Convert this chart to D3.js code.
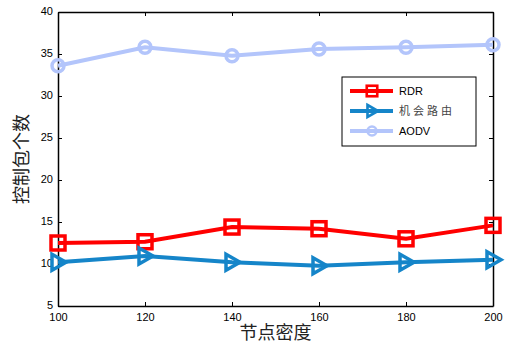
<!DOCTYPE html>
<html>
<head>
<meta charset="utf-8">
<script src="https://cdn.jsdelivr.net/npm/d3@7"></script>
<style>
  body { margin: 0; background: #fff; }
  svg text { font-family: "Liberation Sans", Arial, sans-serif; }
</style>
</head>
<body>
<div id="chart"></div>
<script>
const density = [100, 120, 140, 160, 180, 200];
const rdr = [12.5, 12.65, 14.4, 14.2, 13.0, 14.6];
const opportunistic = [10.2, 10.95, 10.2, 9.8, 10.2, 10.5];
const aodv = [33.6, 35.8, 34.8, 35.6, 35.8, 36.1];
const yTicks = [5, 10, 15, 20, 25, 30, 35, 40];
const xTicks = [100, 120, 140, 160, 180, 200];

const width = 510, height = 347;
const margin = {left: 58, right: 17, top: 12, bottom: 41};

const svg = d3.select("#chart").append("svg")
    .attr("width", width)
    .attr("height", height);

const x = d3.scaleLinear().domain([100, 200]).range([margin.left, width - margin.right]);
const y = d3.scaleLinear().domain([5, 40]).range([height - margin.bottom, margin.top]);

// axes, ticks pointing inward
const tickLen = 4;
const axisB = svg.append("g")
    .attr("transform", `translate(0,${y(5)})`)
    .call(d3.axisBottom(x).tickValues(xTicks).tickSizeInner(-tickLen).tickSizeOuter(0).tickPadding(8));
const axisT = svg.append("g")
    .attr("transform", `translate(0,${y(40)})`)
    .call(d3.axisTop(x).tickValues(xTicks).tickSizeInner(-tickLen).tickSizeOuter(0).tickFormat(""));
const axisL = svg.append("g")
    .attr("transform", `translate(${x(100)},0)`)
    .call(d3.axisLeft(y).tickValues(yTicks).tickSizeInner(-tickLen).tickSizeOuter(0).tickPadding(5));
const axisR = svg.append("g")
    .attr("transform", `translate(${x(200)},0)`)
    .call(d3.axisRight(y).tickValues(yTicks).tickSizeInner(-tickLen).tickSizeOuter(0).tickFormat(""));

[axisB, axisT, axisL, axisR].forEach(a => {
    a.select(".domain").attr("stroke", "#000").attr("stroke-width", 1.5);
    a.selectAll(".tick line").attr("stroke", "#000");
    a.selectAll("text").attr("font-size", 11).attr("fill", "#000")
      .style("font-family", "'Liberation Sans', Arial, sans-serif");
});
axisB.selectAll("text").attr("dy", "0.6em");
axisL.selectAll("text").attr("dy", "0.2em");

// labels
svg.append("text")
    .attr("x", (x(100) + x(200)) / 2)
    .attr("y", 339)
    .attr("text-anchor", "middle")
    .attr("font-size", 18)
    .attr("fill", "#222")
    .style("font-family", "'Noto Sans CJK SC', sans-serif")
    .text("节点密度");

svg.append("text")
    .attr("transform", `translate(28,${(y(5) + y(40)) / 2}) rotate(-90)`)
    .attr("text-anchor", "middle")
    .attr("font-size", 18)
    .attr("fill", "#222")
    .style("font-family", "'Noto Sans CJK SC', sans-serif")
    .text("控制包个数");

const series = [
    {name: "RDR", values: rdr, color: "#ff0000", marker: "square"},
    {name: "机会路由", values: opportunistic, color: "#1585c9", marker: "triangle"},
    {name: "AODV", values: aodv, color: "#b3c5fb", marker: "circle"}
];

const line = d3.line().x((d, i) => x(density[i])).y(d => y(d));

function drawMarker(g, type, cx, cy, color) {
    if (type === "square") {
        g.append("rect").attr("x", cx - 7).attr("y", cy - 7).attr("width", 14).attr("height", 14)
            .attr("fill", "none").attr("stroke", color).attr("stroke-width", 3.5);
    } else if (type === "circle") {
        g.append("circle").attr("cx", cx).attr("cy", cy).attr("r", 6)
            .attr("fill", "none").attr("stroke", color).attr("stroke-width", 3.5);
    } else {
        g.append("path")
            .attr("d", `M${cx - 6},${cy - 8}L${cx + 8},${cy}L${cx - 6},${cy + 8}Z`)
            .attr("fill", "none").attr("stroke", color).attr("stroke-width", 3.5)
            .attr("stroke-linejoin", "miter");
    }
}

series.forEach(s => {
    const g = svg.append("g");
    g.append("path")
        .datum(s.values)
        .attr("d", line)
        .attr("fill", "none")
        .attr("stroke", s.color)
        .attr("stroke-width", 4);
    s.values.forEach((v, i) => drawMarker(g, s.marker, x(density[i]), y(v), s.color));
});

// legend
const lg = svg.append("g");
lg.append("rect").attr("x", 342).attr("y", 77).attr("width", 134).attr("height", 69)
    .attr("fill", "#fff").attr("stroke", "#000").attr("stroke-width", 1);
series.forEach((s, i) => {
    const ly = 91 + i * 20;
    lg.append("line").attr("x1", 350).attr("x2", 393).attr("y1", ly).attr("y2", ly)
        .attr("stroke", s.color).attr("stroke-width", 4);
    const mg = lg.append("g").attr("transform", `translate(372,${ly}) scale(0.75) translate(-372,${-ly})`);
    drawMarker(mg, s.marker, 372, ly, s.color);
    lg.append("text").attr("x", 399).attr("y", ly + 4)
        .attr("font-size", 11)
        .attr("fill", i === 1 ? "#444" : "#000")
        .attr("letter-spacing", i === 1 ? 3 : 0)
        .style("font-family", i === 1 ? "'Noto Sans CJK SC', sans-serif" : "'Liberation Sans', Arial, sans-serif")
        .text(s.name);
});
</script>
</body>
</html>
